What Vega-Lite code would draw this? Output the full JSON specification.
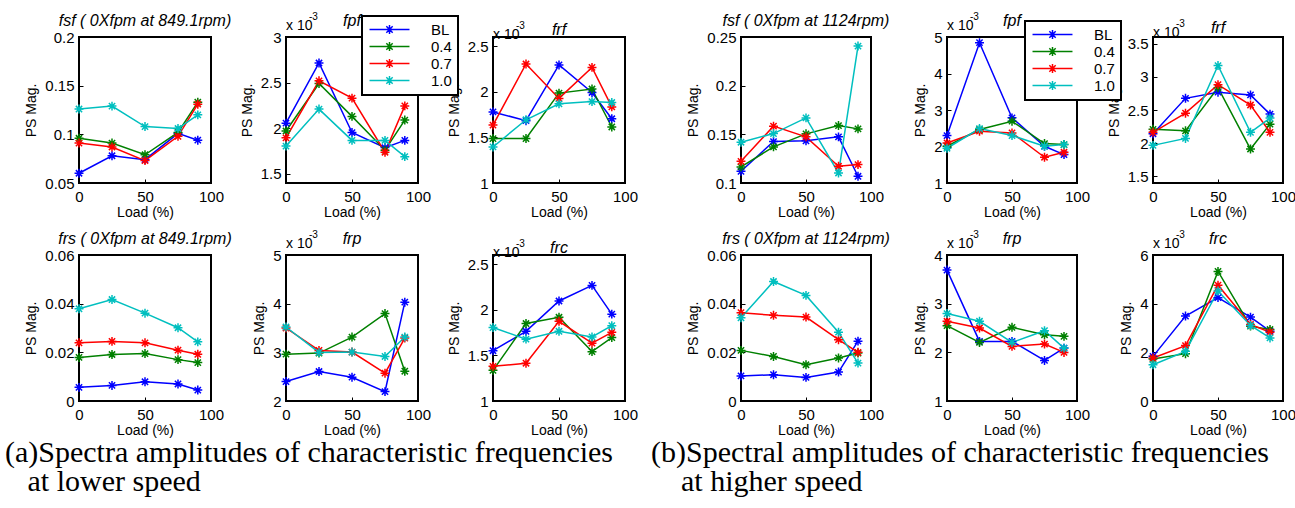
{
  "$schema": "https://vega.github.io/schema/vega-lite/v6.json",
  "background": "white",
  "padding": {"left": 5, "top": 11, "right": 5, "bottom": 5},
  "datasets": {
    "pts": [
      {"g":"a","p":"fsf","s":"BL","load":0,"v":0.060},{"g":"a","p":"fsf","s":"BL","load":25,"v":0.078},{"g":"a","p":"fsf","s":"BL","load":50,"v":0.074},{"g":"a","p":"fsf","s":"BL","load":75,"v":0.101},{"g":"a","p":"fsf","s":"BL","load":90,"v":0.094},
      {"g":"a","p":"fsf","s":"0.4","load":0,"v":0.096},{"g":"a","p":"fsf","s":"0.4","load":25,"v":0.091},{"g":"a","p":"fsf","s":"0.4","load":50,"v":0.079},{"g":"a","p":"fsf","s":"0.4","load":75,"v":0.102},{"g":"a","p":"fsf","s":"0.4","load":90,"v":0.133},
      {"g":"a","p":"fsf","s":"0.7","load":0,"v":0.091},{"g":"a","p":"fsf","s":"0.7","load":25,"v":0.087},{"g":"a","p":"fsf","s":"0.7","load":50,"v":0.073},{"g":"a","p":"fsf","s":"0.7","load":75,"v":0.098},{"g":"a","p":"fsf","s":"0.7","load":90,"v":0.131},
      {"g":"a","p":"fsf","s":"1.0","load":0,"v":0.126},{"g":"a","p":"fsf","s":"1.0","load":25,"v":0.129},{"g":"a","p":"fsf","s":"1.0","load":50,"v":0.108},{"g":"a","p":"fsf","s":"1.0","load":75,"v":0.106},{"g":"a","p":"fsf","s":"1.0","load":90,"v":0.120},

      {"g":"a","p":"fpf","s":"BL","load":0,"v":2.056},{"g":"a","p":"fpf","s":"BL","load":25,"v":2.715},{"g":"a","p":"fpf","s":"BL","load":50,"v":1.953},{"g":"a","p":"fpf","s":"BL","load":75,"v":1.788},{"g":"a","p":"fpf","s":"BL","load":90,"v":1.867},
      {"g":"a","p":"fpf","s":"0.4","load":0,"v":1.97},{"g":"a","p":"fpf","s":"0.4","load":25,"v":2.49},{"g":"a","p":"fpf","s":"0.4","load":50,"v":2.13},{"g":"a","p":"fpf","s":"0.4","load":75,"v":1.76},{"g":"a","p":"fpf","s":"0.4","load":90,"v":2.09},
      {"g":"a","p":"fpf","s":"0.7","load":0,"v":1.895},{"g":"a","p":"fpf","s":"0.7","load":25,"v":2.52},{"g":"a","p":"fpf","s":"0.7","load":50,"v":2.33},{"g":"a","p":"fpf","s":"0.7","load":75,"v":1.737},{"g":"a","p":"fpf","s":"0.7","load":90,"v":2.245},
      {"g":"a","p":"fpf","s":"1.0","load":0,"v":1.805},{"g":"a","p":"fpf","s":"1.0","load":25,"v":2.21},{"g":"a","p":"fpf","s":"1.0","load":50,"v":1.867},{"g":"a","p":"fpf","s":"1.0","load":75,"v":1.867},{"g":"a","p":"fpf","s":"1.0","load":90,"v":1.689},

      {"g":"a","p":"frf","s":"BL","load":0,"v":1.779},{"g":"a","p":"frf","s":"BL","load":25,"v":1.683},{"g":"a","p":"frf","s":"BL","load":50,"v":2.294},{"g":"a","p":"frf","s":"BL","load":75,"v":1.992},{"g":"a","p":"frf","s":"BL","load":90,"v":1.704},
      {"g":"a","p":"frf","s":"0.4","load":0,"v":1.487},{"g":"a","p":"frf","s":"0.4","load":25,"v":1.487},{"g":"a","p":"frf","s":"0.4","load":50,"v":1.985},{"g":"a","p":"frf","s":"0.4","load":75,"v":2.03},{"g":"a","p":"frf","s":"0.4","load":90,"v":1.614},
      {"g":"a","p":"frf","s":"0.7","load":0,"v":1.635},{"g":"a","p":"frf","s":"0.7","load":25,"v":2.304},{"g":"a","p":"frf","s":"0.7","load":50,"v":1.927},{"g":"a","p":"frf","s":"0.7","load":75,"v":2.267},{"g":"a","p":"frf","s":"0.7","load":90,"v":1.834},
      {"g":"a","p":"frf","s":"1.0","load":0,"v":1.395},{"g":"a","p":"frf","s":"1.0","load":25,"v":1.693},{"g":"a","p":"frf","s":"1.0","load":50,"v":1.868},{"g":"a","p":"frf","s":"1.0","load":75,"v":1.892},{"g":"a","p":"frf","s":"1.0","load":90,"v":1.882},

      {"g":"a","p":"frs","s":"BL","load":0,"v":0.0056},{"g":"a","p":"frs","s":"BL","load":25,"v":0.0064},{"g":"a","p":"frs","s":"BL","load":50,"v":0.0079},{"g":"a","p":"frs","s":"BL","load":75,"v":0.0070},{"g":"a","p":"frs","s":"BL","load":90,"v":0.0045},
      {"g":"a","p":"frs","s":"0.4","load":0,"v":0.0179},{"g":"a","p":"frs","s":"0.4","load":25,"v":0.0191},{"g":"a","p":"frs","s":"0.4","load":50,"v":0.0195},{"g":"a","p":"frs","s":"0.4","load":75,"v":0.0170},{"g":"a","p":"frs","s":"0.4","load":90,"v":0.0158},
      {"g":"a","p":"frs","s":"0.7","load":0,"v":0.0239},{"g":"a","p":"frs","s":"0.7","load":25,"v":0.0245},{"g":"a","p":"frs","s":"0.7","load":50,"v":0.0239},{"g":"a","p":"frs","s":"0.7","load":75,"v":0.0209},{"g":"a","p":"frs","s":"0.7","load":90,"v":0.0192},
      {"g":"a","p":"frs","s":"1.0","load":0,"v":0.0379},{"g":"a","p":"frs","s":"1.0","load":25,"v":0.0417},{"g":"a","p":"frs","s":"1.0","load":50,"v":0.0361},{"g":"a","p":"frs","s":"1.0","load":75,"v":0.0301},{"g":"a","p":"frs","s":"1.0","load":90,"v":0.0243},

      {"g":"a","p":"frp","s":"BL","load":0,"v":2.399},{"g":"a","p":"frp","s":"BL","load":25,"v":2.606},{"g":"a","p":"frp","s":"BL","load":50,"v":2.489},{"g":"a","p":"frp","s":"BL","load":75,"v":2.193},{"g":"a","p":"frp","s":"BL","load":90,"v":4.03},
      {"g":"a","p":"frp","s":"0.4","load":0,"v":2.963},{"g":"a","p":"frp","s":"0.4","load":25,"v":2.984},{"g":"a","p":"frp","s":"0.4","load":50,"v":3.314},{"g":"a","p":"frp","s":"0.4","load":75,"v":3.796},{"g":"a","p":"frp","s":"0.4","load":90,"v":2.612},
      {"g":"a","p":"frp","s":"0.7","load":0,"v":3.5},{"g":"a","p":"frp","s":"0.7","load":25,"v":3.039},{"g":"a","p":"frp","s":"0.7","load":50,"v":3.005},{"g":"a","p":"frp","s":"0.7","load":75,"v":2.571},{"g":"a","p":"frp","s":"0.7","load":90,"v":3.294},
      {"g":"a","p":"frp","s":"1.0","load":0,"v":3.521},{"g":"a","p":"frp","s":"1.0","load":25,"v":2.998},{"g":"a","p":"frp","s":"1.0","load":50,"v":3.005},{"g":"a","p":"frp","s":"1.0","load":75,"v":2.915},{"g":"a","p":"frp","s":"1.0","load":90,"v":3.314},

      {"g":"a","p":"frc","s":"BL","load":0,"v":1.551},{"g":"a","p":"frc","s":"BL","load":25,"v":1.764},{"g":"a","p":"frc","s":"BL","load":50,"v":2.096},{"g":"a","p":"frc","s":"BL","load":75,"v":2.267},{"g":"a","p":"frc","s":"BL","load":90,"v":1.952},
      {"g":"a","p":"frc","s":"0.4","load":0,"v":1.336},{"g":"a","p":"frc","s":"0.4","load":25,"v":1.849},{"g":"a","p":"frc","s":"0.4","load":50,"v":1.918},{"g":"a","p":"frc","s":"0.4","load":75,"v":1.541},{"g":"a","p":"frc","s":"0.4","load":90,"v":1.695},
      {"g":"a","p":"frc","s":"0.7","load":0,"v":1.380},{"g":"a","p":"frc","s":"0.7","load":25,"v":1.414},{"g":"a","p":"frc","s":"0.7","load":50,"v":1.873},{"g":"a","p":"frc","s":"0.7","load":75,"v":1.634},{"g":"a","p":"frc","s":"0.7","load":90,"v":1.753},
      {"g":"a","p":"frc","s":"1.0","load":0,"v":1.805},{"g":"a","p":"frc","s":"1.0","load":25,"v":1.678},{"g":"a","p":"frc","s":"1.0","load":50,"v":1.764},{"g":"a","p":"frc","s":"1.0","load":75,"v":1.702},{"g":"a","p":"frc","s":"1.0","load":90,"v":1.825},

      {"g":"b","p":"fsf","s":"BL","load":0,"v":0.112},{"g":"b","p":"fsf","s":"BL","load":25,"v":0.1426},{"g":"b","p":"fsf","s":"BL","load":50,"v":0.1433},{"g":"b","p":"fsf","s":"BL","load":75,"v":0.1474},{"g":"b","p":"fsf","s":"BL","load":90,"v":0.1069},
      {"g":"b","p":"fsf","s":"0.4","load":0,"v":0.1165},{"g":"b","p":"fsf","s":"0.4","load":25,"v":0.1371},{"g":"b","p":"fsf","s":"0.4","load":50,"v":0.1505},{"g":"b","p":"fsf","s":"0.4","load":75,"v":0.159},{"g":"b","p":"fsf","s":"0.4","load":90,"v":0.1556},
      {"g":"b","p":"fsf","s":"0.7","load":0,"v":0.1223},{"g":"b","p":"fsf","s":"0.7","load":25,"v":0.1584},{"g":"b","p":"fsf","s":"0.7","load":50,"v":0.1474},{"g":"b","p":"fsf","s":"0.7","load":75,"v":0.1172},{"g":"b","p":"fsf","s":"0.7","load":90,"v":0.1189},
      {"g":"b","p":"fsf","s":"1.0","load":0,"v":0.1419},{"g":"b","p":"fsf","s":"1.0","load":25,"v":0.1508},{"g":"b","p":"fsf","s":"1.0","load":50,"v":0.1669},{"g":"b","p":"fsf","s":"1.0","load":75,"v":0.1103},{"g":"b","p":"fsf","s":"1.0","load":90,"v":0.2407},

      {"g":"b","p":"fpf","s":"BL","load":0,"v":2.30},{"g":"b","p":"fpf","s":"BL","load":25,"v":4.844},{"g":"b","p":"fpf","s":"BL","load":50,"v":2.785},{"g":"b","p":"fpf","s":"BL","load":75,"v":2.007},{"g":"b","p":"fpf","s":"BL","load":90,"v":1.778},
      {"g":"b","p":"fpf","s":"0.4","load":0,"v":2.007},{"g":"b","p":"fpf","s":"0.4","load":25,"v":2.465},{"g":"b","p":"fpf","s":"0.4","load":50,"v":2.693},{"g":"b","p":"fpf","s":"0.4","load":75,"v":2.08},{"g":"b","p":"fpf","s":"0.4","load":90,"v":2.053},
      {"g":"b","p":"fpf","s":"0.7","load":0,"v":2.098},{"g":"b","p":"fpf","s":"0.7","load":25,"v":2.419},{"g":"b","p":"fpf","s":"0.7","load":50,"v":2.373},{"g":"b","p":"fpf","s":"0.7","load":75,"v":1.705},{"g":"b","p":"fpf","s":"0.7","load":90,"v":1.842},
      {"g":"b","p":"fpf","s":"1.0","load":0,"v":1.952},{"g":"b","p":"fpf","s":"1.0","load":25,"v":2.492},{"g":"b","p":"fpf","s":"1.0","load":50,"v":2.30},{"g":"b","p":"fpf","s":"1.0","load":75,"v":2.007},{"g":"b","p":"fpf","s":"1.0","load":90,"v":2.053},

      {"g":"b","p":"frf","s":"BL","load":0,"v":2.141},{"g":"b","p":"frf","s":"BL","load":25,"v":2.676},{"g":"b","p":"frf","s":"BL","load":50,"v":2.768},{"g":"b","p":"frf","s":"BL","load":75,"v":2.727},{"g":"b","p":"frf","s":"BL","load":90,"v":2.438},
      {"g":"b","p":"frf","s":"0.4","load":0,"v":2.209},{"g":"b","p":"frf","s":"0.4","load":25,"v":2.186},{"g":"b","p":"frf","s":"0.4","load":50,"v":2.836},{"g":"b","p":"frf","s":"0.4","load":75,"v":1.912},{"g":"b","p":"frf","s":"0.4","load":90,"v":2.287},
      {"g":"b","p":"frf","s":"0.7","load":0,"v":2.164},{"g":"b","p":"frf","s":"0.7","load":25,"v":2.452},{"g":"b","p":"frf","s":"0.7","load":50,"v":2.882},{"g":"b","p":"frf","s":"0.7","load":75,"v":2.575},{"g":"b","p":"frf","s":"0.7","load":90,"v":2.164},
      {"g":"b","p":"frf","s":"1.0","load":0,"v":1.967},{"g":"b","p":"frf","s":"1.0","load":25,"v":2.072},{"g":"b","p":"frf","s":"1.0","load":50,"v":3.17},{"g":"b","p":"frf","s":"1.0","load":75,"v":2.164},{"g":"b","p":"frf","s":"1.0","load":90,"v":2.379},

      {"g":"b","p":"frs","s":"BL","load":0,"v":0.0103},{"g":"b","p":"frs","s":"BL","load":25,"v":0.0108},{"g":"b","p":"frs","s":"BL","load":50,"v":0.0097},{"g":"b","p":"frs","s":"BL","load":75,"v":0.0119},{"g":"b","p":"frs","s":"BL","load":90,"v":0.0246},
      {"g":"b","p":"frs","s":"0.4","load":0,"v":0.0208},{"g":"b","p":"frs","s":"0.4","load":25,"v":0.0183},{"g":"b","p":"frs","s":"0.4","load":50,"v":0.0149},{"g":"b","p":"frs","s":"0.4","load":75,"v":0.0177},{"g":"b","p":"frs","s":"0.4","load":90,"v":0.0197},
      {"g":"b","p":"frs","s":"0.7","load":0,"v":0.0363},{"g":"b","p":"frs","s":"0.7","load":25,"v":0.0352},{"g":"b","p":"frs","s":"0.7","load":50,"v":0.0345},{"g":"b","p":"frs","s":"0.7","load":75,"v":0.0252},{"g":"b","p":"frs","s":"0.7","load":90,"v":0.0200},
      {"g":"b","p":"frs","s":"1.0","load":0,"v":0.0342},{"g":"b","p":"frs","s":"1.0","load":25,"v":0.0491},{"g":"b","p":"frs","s":"1.0","load":50,"v":0.0434},{"g":"b","p":"frs","s":"1.0","load":75,"v":0.0283},{"g":"b","p":"frs","s":"1.0","load":90,"v":0.0156},

      {"g":"b","p":"frp","s":"BL","load":0,"v":3.69},{"g":"b","p":"frp","s":"BL","load":25,"v":2.225},{"g":"b","p":"frp","s":"BL","load":50,"v":2.225},{"g":"b","p":"frp","s":"BL","load":75,"v":1.833},{"g":"b","p":"frp","s":"BL","load":90,"v":2.087},
      {"g":"b","p":"frp","s":"0.4","load":0,"v":2.548},{"g":"b","p":"frp","s":"0.4","load":25,"v":2.204},{"g":"b","p":"frp","s":"0.4","load":50,"v":2.514},{"g":"b","p":"frp","s":"0.4","load":75,"v":2.362},{"g":"b","p":"frp","s":"0.4","load":90,"v":2.328},
      {"g":"b","p":"frp","s":"0.7","load":0,"v":2.638},{"g":"b","p":"frp","s":"0.7","load":25,"v":2.5},{"g":"b","p":"frp","s":"0.7","load":50,"v":2.122},{"g":"b","p":"frp","s":"0.7","load":75,"v":2.17},{"g":"b","p":"frp","s":"0.7","load":90,"v":1.998},
      {"g":"b","p":"frp","s":"1.0","load":0,"v":2.796},{"g":"b","p":"frp","s":"1.0","load":25,"v":2.638},{"g":"b","p":"frp","s":"1.0","load":50,"v":2.204},{"g":"b","p":"frp","s":"1.0","load":75,"v":2.445},{"g":"b","p":"frp","s":"1.0","load":90,"v":2.087},

      {"g":"b","p":"frc","s":"BL","load":0,"v":1.834},{"g":"b","p":"frc","s":"BL","load":25,"v":3.49},{"g":"b","p":"frc","s":"BL","load":50,"v":4.248},{"g":"b","p":"frc","s":"BL","load":75,"v":3.448},{"g":"b","p":"frc","s":"BL","load":90,"v":2.869},
      {"g":"b","p":"frc","s":"0.4","load":0,"v":1.724},{"g":"b","p":"frc","s":"0.4","load":25,"v":1.945},{"g":"b","p":"frc","s":"0.4","load":50,"v":5.324},{"g":"b","p":"frc","s":"0.4","load":75,"v":3.076},{"g":"b","p":"frc","s":"0.4","load":90,"v":2.938},
      {"g":"b","p":"frc","s":"0.7","load":0,"v":1.766},{"g":"b","p":"frc","s":"0.7","load":25,"v":2.276},{"g":"b","p":"frc","s":"0.7","load":50,"v":4.759},{"g":"b","p":"frc","s":"0.7","load":75,"v":3.145},{"g":"b","p":"frc","s":"0.7","load":90,"v":2.828},
      {"g":"b","p":"frc","s":"1.0","load":0,"v":1.49},{"g":"b","p":"frc","s":"1.0","load":25,"v":2.041},{"g":"b","p":"frc","s":"1.0","load":50,"v":4.524},{"g":"b","p":"frc","s":"1.0","load":75,"v":3.103},{"g":"b","p":"frc","s":"1.0","load":90,"v":2.593}
    ]
  },
  "data": {"name": "pts"},
  "spacing": 12,
  "resolve": {"scale": {"color": "independent"}, "legend": {"color": "independent"}},
  "hconcat": [
    {
      "spacing": 9,
      "title": {"text": ["(a)Spectra amplitudes of characteristic frequencies", "\u200b\u00a0\u00a0\u00a0at lower speed"], "orient": "bottom", "anchor": "start", "frame": "group", "font": "Liberation Serif", "fontSize": 30, "fontStyle": "normal", "fontWeight": "normal", "lineHeight": 29, "baseline": "top", "dx": -74, "offset": 0},
      "vconcat": [
        {
          "spacing": 75, "bounds": "flush",
          "hconcat": [
            {
              "width": 132, "height": 146,
              "title": {"text": "fsf ( 0Xfpm at 849.1rpm)", "offset": 1},
              "transform": [{"filter": "datum.g=='a' && datum.p=='fsf'"}],
              "mark": {"type": "line", "strokeWidth": 1.5, "point": {"shape": "M-1,0L1,0M0,-1L0,1M-0.7,-0.7L0.7,0.7M-0.7,0.7L0.7,-0.7", "filled": false, "size": 80, "strokeWidth": 1.5}},
              "encoding": {
                "x": {"field": "load", "type": "quantitative", "scale": {"domain": [0, 100]}, "axis": {"values": [0, 50, 100], "title": "Load (%)"}},
                "y": {"field": "v", "type": "quantitative", "scale": {"domain": [0.05, 0.2]}, "axis": {"values": [0.05, 0.1, 0.15, 0.2], "format": "~g", "labelOverlap": false, "title": "PS Mag."}},
                "color": {"field": "s", "type": "nominal", "scale": {"domain": ["BL", "0.4", "0.7", "1.0"], "range": ["#0000ff", "#008000", "#ff0000", "#00bfbf"]}, "legend": {"title": null, "orient": "none", "legendX": 283, "legendY": -21}}
              }
            },
            {
              "width": 132, "height": 146,
              "title": {"text": "fpf", "offset": -17},
              "layer": [
                {
                  "transform": [{"filter": "datum.g=='a' && datum.p=='fpf'"}],
                  "mark": {"type": "line", "strokeWidth": 1.5, "point": {"shape": "M-1,0L1,0M0,-1L0,1M-0.7,-0.7L0.7,0.7M-0.7,0.7L0.7,-0.7", "filled": false, "size": 80, "strokeWidth": 1.5}},
                  "encoding": {
                    "x": {"field": "load", "type": "quantitative", "scale": {"domain": [0, 100]}, "axis": {"values": [0, 50, 100], "title": "Load (%)"}},
                    "y": {"field": "v", "type": "quantitative", "scale": {"domain": [1.5, 3]}, "axis": {"values": [1.5, 2, 2.5, 3], "format": "~g", "labelOverlap": false, "title": "PS Mag."}},
                    "color": {"field": "s", "type": "nominal", "scale": {"domain": ["BL", "0.4", "0.7", "1.0"], "range": ["#0000ff", "#008000", "#ff0000", "#00bfbf"]}}
                  }
                },
                {"data": {"values": [{"t": "x 10"}]}, "mark": {"type": "text", "align": "left", "baseline": "alphabetic", "dy": -7, "fontSize": 14}, "encoding": {"x": {"datum": 0, "type": "quantitative", "axis": {"values": [0, 50, 100], "title": "Load (%)"}}, "y": {"datum": 3, "type": "quantitative", "axis": {"values": [1.5, 2, 2.5, 3], "format": "~g", "labelOverlap": false, "title": "PS Mag."}}, "text": {"field": "t"}}},
                {"data": {"values": [{"t": "-3"}]}, "mark": {"type": "text", "align": "left", "baseline": "alphabetic", "dx": 23, "dy": -17, "fontSize": 10}, "encoding": {"x": {"datum": 0, "type": "quantitative", "axis": {"values": [0, 50, 100], "title": "Load (%)"}}, "y": {"datum": 3, "type": "quantitative", "axis": {"values": [1.5, 2, 2.5, 3], "format": "~g", "labelOverlap": false, "title": "PS Mag."}}, "text": {"field": "t"}}}
              ]
            },
            {
              "width": 132, "height": 146,
              "title": {"text": "frf", "offset": -17},
              "layer": [
                {
                  "transform": [{"filter": "datum.g=='a' && datum.p=='frf'"}],
                  "mark": {"type": "line", "strokeWidth": 1.5, "point": {"shape": "M-1,0L1,0M0,-1L0,1M-0.7,-0.7L0.7,0.7M-0.7,0.7L0.7,-0.7", "filled": false, "size": 80, "strokeWidth": 1.5}},
                  "encoding": {
                    "x": {"field": "load", "type": "quantitative", "scale": {"domain": [0, 100]}, "axis": {"values": [0, 50, 100], "title": "Load (%)"}},
                    "y": {"field": "v", "type": "quantitative", "scale": {"domain": [1, 2.5]}, "axis": {"values": [1, 1.5, 2, 2.5], "format": "~g", "labelOverlap": false, "title": "PS Mag."}},
                    "color": {"field": "s", "type": "nominal", "scale": {"domain": ["BL", "0.4", "0.7", "1.0"], "range": ["#0000ff", "#008000", "#ff0000", "#00bfbf"]}}
                  }
                },
                {"data": {"values": [{"t": "x 10"}]}, "mark": {"type": "text", "align": "left", "baseline": "alphabetic", "dy": -7, "fontSize": 14}, "encoding": {"x": {"datum": 0, "type": "quantitative", "axis": {"values": [0, 50, 100], "title": "Load (%)"}}, "y": {"datum": 2.5, "type": "quantitative", "axis": {"values": [1, 1.5, 2, 2.5], "format": "~g", "labelOverlap": false, "title": "PS Mag."}}, "text": {"field": "t"}}},
                {"data": {"values": [{"t": "-3"}]}, "mark": {"type": "text", "align": "left", "baseline": "alphabetic", "dx": 23, "dy": -17, "fontSize": 10}, "encoding": {"x": {"datum": 0, "type": "quantitative", "axis": {"values": [0, 50, 100], "title": "Load (%)"}}, "y": {"datum": 2.5, "type": "quantitative", "axis": {"values": [1, 1.5, 2, 2.5], "format": "~g", "labelOverlap": false, "title": "PS Mag."}}, "text": {"field": "t"}}}
              ]
            }
          ]
        },
        {
          "spacing": 75, "bounds": "flush",
          "hconcat": [
            {
              "width": 132, "height": 146,
              "title": {"text": "frs ( 0Xfpm at 849.1rpm)", "offset": 1},
              "transform": [{"filter": "datum.g=='a' && datum.p=='frs'"}],
              "mark": {"type": "line", "strokeWidth": 1.5, "point": {"shape": "M-1,0L1,0M0,-1L0,1M-0.7,-0.7L0.7,0.7M-0.7,0.7L0.7,-0.7", "filled": false, "size": 80, "strokeWidth": 1.5}},
              "encoding": {
                "x": {"field": "load", "type": "quantitative", "scale": {"domain": [0, 100]}, "axis": {"values": [0, 50, 100], "title": "Load (%)"}},
                "y": {"field": "v", "type": "quantitative", "scale": {"domain": [0, 0.06]}, "axis": {"values": [0, 0.02, 0.04, 0.06], "format": "~g", "labelOverlap": false, "title": "PS Mag."}},
                "color": {"field": "s", "type": "nominal", "scale": {"domain": ["BL", "0.4", "0.7", "1.0"], "range": ["#0000ff", "#008000", "#ff0000", "#00bfbf"]}}
              }
            },
            {
              "width": 132, "height": 146,
              "title": {"text": "frp", "offset": -17},
              "layer": [
                {
                  "transform": [{"filter": "datum.g=='a' && datum.p=='frp'"}],
                  "mark": {"type": "line", "strokeWidth": 1.5, "point": {"shape": "M-1,0L1,0M0,-1L0,1M-0.7,-0.7L0.7,0.7M-0.7,0.7L0.7,-0.7", "filled": false, "size": 80, "strokeWidth": 1.5}},
                  "encoding": {
                    "x": {"field": "load", "type": "quantitative", "scale": {"domain": [0, 100]}, "axis": {"values": [0, 50, 100], "title": "Load (%)"}},
                    "y": {"field": "v", "type": "quantitative", "scale": {"domain": [2, 5]}, "axis": {"values": [2, 3, 4, 5], "format": "~g", "labelOverlap": false, "title": "PS Mag."}},
                    "color": {"field": "s", "type": "nominal", "scale": {"domain": ["BL", "0.4", "0.7", "1.0"], "range": ["#0000ff", "#008000", "#ff0000", "#00bfbf"]}}
                  }
                },
                {"data": {"values": [{"t": "x 10"}]}, "mark": {"type": "text", "align": "left", "baseline": "alphabetic", "dy": -7, "fontSize": 14}, "encoding": {"x": {"datum": 0, "type": "quantitative", "axis": {"values": [0, 50, 100], "title": "Load (%)"}}, "y": {"datum": 5, "type": "quantitative", "axis": {"values": [2, 3, 4, 5], "format": "~g", "labelOverlap": false, "title": "PS Mag."}}, "text": {"field": "t"}}},
                {"data": {"values": [{"t": "-3"}]}, "mark": {"type": "text", "align": "left", "baseline": "alphabetic", "dx": 23, "dy": -17, "fontSize": 10}, "encoding": {"x": {"datum": 0, "type": "quantitative", "axis": {"values": [0, 50, 100], "title": "Load (%)"}}, "y": {"datum": 5, "type": "quantitative", "axis": {"values": [2, 3, 4, 5], "format": "~g", "labelOverlap": false, "title": "PS Mag."}}, "text": {"field": "t"}}}
              ]
            },
            {
              "width": 132, "height": 146,
              "title": {"text": "frc", "offset": -17},
              "layer": [
                {
                  "transform": [{"filter": "datum.g=='a' && datum.p=='frc'"}],
                  "mark": {"type": "line", "strokeWidth": 1.5, "point": {"shape": "M-1,0L1,0M0,-1L0,1M-0.7,-0.7L0.7,0.7M-0.7,0.7L0.7,-0.7", "filled": false, "size": 80, "strokeWidth": 1.5}},
                  "encoding": {
                    "x": {"field": "load", "type": "quantitative", "scale": {"domain": [0, 100]}, "axis": {"values": [0, 50, 100], "title": "Load (%)"}},
                    "y": {"field": "v", "type": "quantitative", "scale": {"domain": [1, 2.5]}, "axis": {"values": [1, 1.5, 2, 2.5], "format": "~g", "labelOverlap": false, "title": "PS Mag."}},
                    "color": {"field": "s", "type": "nominal", "scale": {"domain": ["BL", "0.4", "0.7", "1.0"], "range": ["#0000ff", "#008000", "#ff0000", "#00bfbf"]}}
                  }
                },
                {"data": {"values": [{"t": "x 10"}]}, "mark": {"type": "text", "align": "left", "baseline": "alphabetic", "dy": -7, "fontSize": 14}, "encoding": {"x": {"datum": 0, "type": "quantitative", "axis": {"values": [0, 50, 100], "title": "Load (%)"}}, "y": {"datum": 2.5, "type": "quantitative", "axis": {"values": [1, 1.5, 2, 2.5], "format": "~g", "labelOverlap": false, "title": "PS Mag."}}, "text": {"field": "t"}}},
                {"data": {"values": [{"t": "-3"}]}, "mark": {"type": "text", "align": "left", "baseline": "alphabetic", "dx": 23, "dy": -17, "fontSize": 10}, "encoding": {"x": {"datum": 0, "type": "quantitative", "axis": {"values": [0, 50, 100], "title": "Load (%)"}}, "y": {"datum": 2.5, "type": "quantitative", "axis": {"values": [1, 1.5, 2, 2.5], "format": "~g", "labelOverlap": false, "title": "PS Mag."}}, "text": {"field": "t"}}}
              ]
            }
          ]
        }
      ]
    },
    {
      "spacing": 9,
      "title": {"text": ["(b)Spectral amplitudes of characteristic frequencies", "\u200b\u00a0\u00a0\u00a0\u00a0at higher speed"], "orient": "bottom", "anchor": "start", "frame": "group", "font": "Liberation Serif", "fontSize": 30, "fontStyle": "normal", "fontWeight": "normal", "lineHeight": 29, "baseline": "top", "dx": -90, "offset": 0},
      "vconcat": [
        {
          "spacing": 76, "bounds": "flush",
          "hconcat": [
            {
              "width": 130, "height": 146,
              "title": {"text": "fsf ( 0Xfpm at 1124rpm)", "offset": 1},
              "transform": [{"filter": "datum.g=='b' && datum.p=='fsf'"}],
              "mark": {"type": "line", "strokeWidth": 1.5, "point": {"shape": "M-1,0L1,0M0,-1L0,1M-0.7,-0.7L0.7,0.7M-0.7,0.7L0.7,-0.7", "filled": false, "size": 80, "strokeWidth": 1.5}},
              "encoding": {
                "x": {"field": "load", "type": "quantitative", "scale": {"domain": [0, 100]}, "axis": {"values": [0, 50, 100], "title": "Load (%)"}},
                "y": {"field": "v", "type": "quantitative", "scale": {"domain": [0.1, 0.25]}, "axis": {"values": [0.1, 0.15, 0.2, 0.25], "format": "~g", "labelOverlap": false, "title": "PS Mag."}},
                "color": {"field": "s", "type": "nominal", "scale": {"domain": ["BL", "0.4", "0.7", "1.0"], "range": ["#0000ff", "#008000", "#ff0000", "#00bfbf"]}, "legend": {"title": null, "orient": "none", "legendX": 284, "legendY": -16}}
              }
            },
            {
              "width": 130, "height": 146,
              "title": {"text": "fpf", "offset": -17},
              "layer": [
                {
                  "transform": [{"filter": "datum.g=='b' && datum.p=='fpf'"}],
                  "mark": {"type": "line", "strokeWidth": 1.5, "point": {"shape": "M-1,0L1,0M0,-1L0,1M-0.7,-0.7L0.7,0.7M-0.7,0.7L0.7,-0.7", "filled": false, "size": 80, "strokeWidth": 1.5}},
                  "encoding": {
                    "x": {"field": "load", "type": "quantitative", "scale": {"domain": [0, 100]}, "axis": {"values": [0, 50, 100], "title": "Load (%)"}},
                    "y": {"field": "v", "type": "quantitative", "scale": {"domain": [1, 5]}, "axis": {"values": [1, 2, 3, 4, 5], "format": "~g", "labelOverlap": false, "title": "PS Mag."}},
                    "color": {"field": "s", "type": "nominal", "scale": {"domain": ["BL", "0.4", "0.7", "1.0"], "range": ["#0000ff", "#008000", "#ff0000", "#00bfbf"]}}
                  }
                },
                {"data": {"values": [{"t": "x 10"}]}, "mark": {"type": "text", "align": "left", "baseline": "alphabetic", "dy": -7, "fontSize": 14}, "encoding": {"x": {"datum": 0, "type": "quantitative", "axis": {"values": [0, 50, 100], "title": "Load (%)"}}, "y": {"datum": 5, "type": "quantitative", "axis": {"values": [1, 2, 3, 4, 5], "format": "~g", "labelOverlap": false, "title": "PS Mag."}}, "text": {"field": "t"}}},
                {"data": {"values": [{"t": "-3"}]}, "mark": {"type": "text", "align": "left", "baseline": "alphabetic", "dx": 23, "dy": -17, "fontSize": 10}, "encoding": {"x": {"datum": 0, "type": "quantitative", "axis": {"values": [0, 50, 100], "title": "Load (%)"}}, "y": {"datum": 5, "type": "quantitative", "axis": {"values": [1, 2, 3, 4, 5], "format": "~g", "labelOverlap": false, "title": "PS Mag."}}, "text": {"field": "t"}}}
              ]
            },
            {
              "width": 130, "height": 146,
              "title": {"text": "frf", "offset": -17},
              "layer": [
                {
                  "transform": [{"filter": "datum.g=='b' && datum.p=='frf'"}],
                  "mark": {"type": "line", "strokeWidth": 1.5, "point": {"shape": "M-1,0L1,0M0,-1L0,1M-0.7,-0.7L0.7,0.7M-0.7,0.7L0.7,-0.7", "filled": false, "size": 80, "strokeWidth": 1.5}},
                  "encoding": {
                    "x": {"field": "load", "type": "quantitative", "scale": {"domain": [0, 100]}, "axis": {"values": [0, 50, 100], "title": "Load (%)"}},
                    "y": {"field": "v", "type": "quantitative", "scale": {"domain": [1.5, 3.5]}, "axis": {"values": [1.5, 2, 2.5, 3, 3.5], "format": "~g", "labelOverlap": false, "title": "PS Mag."}},
                    "color": {"field": "s", "type": "nominal", "scale": {"domain": ["BL", "0.4", "0.7", "1.0"], "range": ["#0000ff", "#008000", "#ff0000", "#00bfbf"]}}
                  }
                },
                {"data": {"values": [{"t": "x 10"}]}, "mark": {"type": "text", "align": "left", "baseline": "alphabetic", "dy": -7, "fontSize": 14}, "encoding": {"x": {"datum": 0, "type": "quantitative", "axis": {"values": [0, 50, 100], "title": "Load (%)"}}, "y": {"datum": 3.5, "type": "quantitative", "axis": {"values": [1.5, 2, 2.5, 3, 3.5], "format": "~g", "labelOverlap": false, "title": "PS Mag."}}, "text": {"field": "t"}}},
                {"data": {"values": [{"t": "-3"}]}, "mark": {"type": "text", "align": "left", "baseline": "alphabetic", "dx": 23, "dy": -17, "fontSize": 10}, "encoding": {"x": {"datum": 0, "type": "quantitative", "axis": {"values": [0, 50, 100], "title": "Load (%)"}}, "y": {"datum": 3.5, "type": "quantitative", "axis": {"values": [1.5, 2, 2.5, 3, 3.5], "format": "~g", "labelOverlap": false, "title": "PS Mag."}}, "text": {"field": "t"}}}
              ]
            }
          ]
        },
        {
          "spacing": 76, "bounds": "flush",
          "hconcat": [
            {
              "width": 130, "height": 146,
              "title": {"text": "frs ( 0Xfpm at 1124rpm)", "offset": 1},
              "transform": [{"filter": "datum.g=='b' && datum.p=='frs'"}],
              "mark": {"type": "line", "strokeWidth": 1.5, "point": {"shape": "M-1,0L1,0M0,-1L0,1M-0.7,-0.7L0.7,0.7M-0.7,0.7L0.7,-0.7", "filled": false, "size": 80, "strokeWidth": 1.5}},
              "encoding": {
                "x": {"field": "load", "type": "quantitative", "scale": {"domain": [0, 100]}, "axis": {"values": [0, 50, 100], "title": "Load (%)"}},
                "y": {"field": "v", "type": "quantitative", "scale": {"domain": [0, 0.06]}, "axis": {"values": [0, 0.02, 0.04, 0.06], "format": "~g", "labelOverlap": false, "title": "PS Mag."}},
                "color": {"field": "s", "type": "nominal", "scale": {"domain": ["BL", "0.4", "0.7", "1.0"], "range": ["#0000ff", "#008000", "#ff0000", "#00bfbf"]}}
              }
            },
            {
              "width": 130, "height": 146,
              "title": {"text": "frp", "offset": -17},
              "layer": [
                {
                  "transform": [{"filter": "datum.g=='b' && datum.p=='frp'"}],
                  "mark": {"type": "line", "strokeWidth": 1.5, "point": {"shape": "M-1,0L1,0M0,-1L0,1M-0.7,-0.7L0.7,0.7M-0.7,0.7L0.7,-0.7", "filled": false, "size": 80, "strokeWidth": 1.5}},
                  "encoding": {
                    "x": {"field": "load", "type": "quantitative", "scale": {"domain": [0, 100]}, "axis": {"values": [0, 50, 100], "title": "Load (%)"}},
                    "y": {"field": "v", "type": "quantitative", "scale": {"domain": [1, 4]}, "axis": {"values": [1, 2, 3, 4], "format": "~g", "labelOverlap": false, "title": "PS Mag."}},
                    "color": {"field": "s", "type": "nominal", "scale": {"domain": ["BL", "0.4", "0.7", "1.0"], "range": ["#0000ff", "#008000", "#ff0000", "#00bfbf"]}}
                  }
                },
                {"data": {"values": [{"t": "x 10"}]}, "mark": {"type": "text", "align": "left", "baseline": "alphabetic", "dy": -7, "fontSize": 14}, "encoding": {"x": {"datum": 0, "type": "quantitative", "axis": {"values": [0, 50, 100], "title": "Load (%)"}}, "y": {"datum": 4, "type": "quantitative", "axis": {"values": [1, 2, 3, 4], "format": "~g", "labelOverlap": false, "title": "PS Mag."}}, "text": {"field": "t"}}},
                {"data": {"values": [{"t": "-3"}]}, "mark": {"type": "text", "align": "left", "baseline": "alphabetic", "dx": 23, "dy": -17, "fontSize": 10}, "encoding": {"x": {"datum": 0, "type": "quantitative", "axis": {"values": [0, 50, 100], "title": "Load (%)"}}, "y": {"datum": 4, "type": "quantitative", "axis": {"values": [1, 2, 3, 4], "format": "~g", "labelOverlap": false, "title": "PS Mag."}}, "text": {"field": "t"}}}
              ]
            },
            {
              "width": 130, "height": 146,
              "title": {"text": "frc", "offset": -17},
              "layer": [
                {
                  "transform": [{"filter": "datum.g=='b' && datum.p=='frc'"}],
                  "mark": {"type": "line", "strokeWidth": 1.5, "point": {"shape": "M-1,0L1,0M0,-1L0,1M-0.7,-0.7L0.7,0.7M-0.7,0.7L0.7,-0.7", "filled": false, "size": 80, "strokeWidth": 1.5}},
                  "encoding": {
                    "x": {"field": "load", "type": "quantitative", "scale": {"domain": [0, 100]}, "axis": {"values": [0, 50, 100], "title": "Load (%)"}},
                    "y": {"field": "v", "type": "quantitative", "scale": {"domain": [0, 6]}, "axis": {"values": [0, 2, 4, 6], "format": "~g", "labelOverlap": false, "title": "PS Mag."}},
                    "color": {"field": "s", "type": "nominal", "scale": {"domain": ["BL", "0.4", "0.7", "1.0"], "range": ["#0000ff", "#008000", "#ff0000", "#00bfbf"]}}
                  }
                },
                {"data": {"values": [{"t": "x 10"}]}, "mark": {"type": "text", "align": "left", "baseline": "alphabetic", "dy": -7, "fontSize": 14}, "encoding": {"x": {"datum": 0, "type": "quantitative", "axis": {"values": [0, 50, 100], "title": "Load (%)"}}, "y": {"datum": 6, "type": "quantitative", "axis": {"values": [0, 2, 4, 6], "format": "~g", "labelOverlap": false, "title": "PS Mag."}}, "text": {"field": "t"}}},
                {"data": {"values": [{"t": "-3"}]}, "mark": {"type": "text", "align": "left", "baseline": "alphabetic", "dx": 23, "dy": -17, "fontSize": 10}, "encoding": {"x": {"datum": 0, "type": "quantitative", "axis": {"values": [0, 50, 100], "title": "Load (%)"}}, "y": {"datum": 6, "type": "quantitative", "axis": {"values": [0, 2, 4, 6], "format": "~g", "labelOverlap": false, "title": "PS Mag."}}, "text": {"field": "t"}}}
              ]
            }
          ]
        }
      ]
    }
  ],
  "config": {
    "font": "Liberation Sans",
    "view": {"stroke": "black", "strokeWidth": 2},
    "axis": {"domain": false, "grid": false, "ticks": true, "tickSize": -4, "tickColor": "black", "tickWidth": 1, "labelFont": "Liberation Sans", "labelFontSize": 15, "labelColor": "black", "labelFlush": false, "labelOverlap": false, "labelBound": false, "titleFont": "Liberation Sans", "titleFontSize": 14, "titleFontWeight": "normal", "titleColor": "black"},
    "axisX": {"labelPadding": 10, "titlePadding": 1},
    "axisY": {"labelPadding": 9, "titlePadding": 6},
    "title": {"font": "Liberation Sans", "fontSize": 16, "fontStyle": "italic", "fontWeight": "normal", "color": "black"},
    "text": {"font": "Liberation Sans", "color": "black"},
    "legend": {"strokeColor": "black", "fillColor": "white", "strokeWidth": 2, "padding": 6, "labelFont": "Liberation Sans", "labelFontSize": 15, "labelColor": "black", "symbolType": "M-3.33,0L3.33,0M0,-0.75L0,0.75M-0.53,-0.53L0.53,0.53M-0.53,0.53L0.53,-0.53", "symbolSize": 144, "symbolStrokeWidth": 1.5, "symbolFillColor": "transparent", "symbolOffset": 14, "labelOffset": 34, "rowPadding": 1}
  }
}
